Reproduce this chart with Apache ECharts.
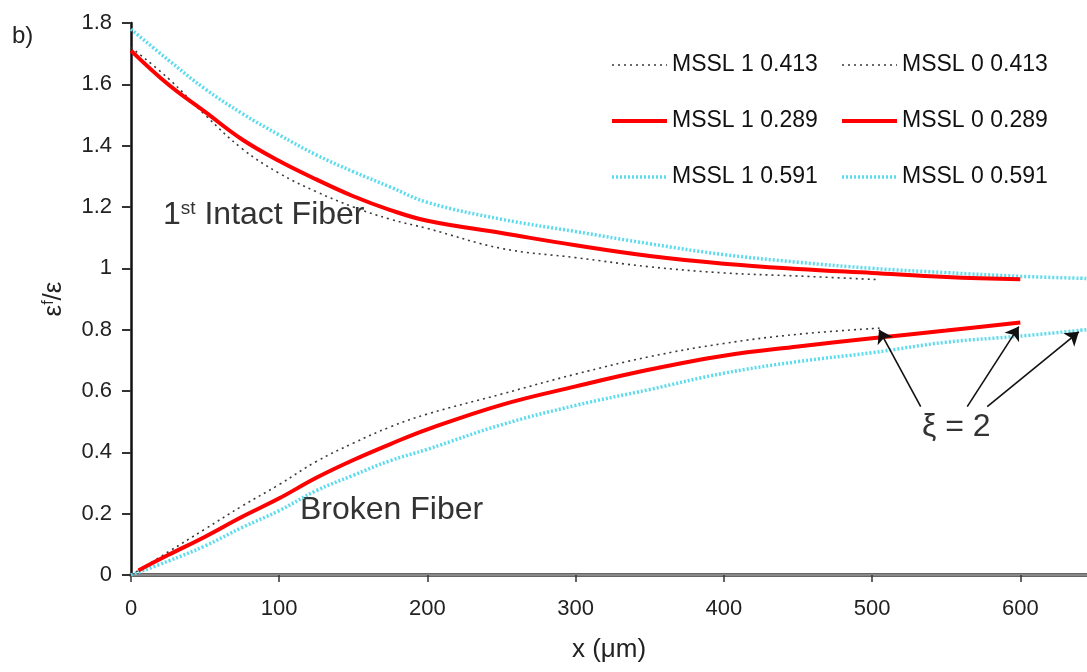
<!DOCTYPE html>
<html><head><meta charset="utf-8">
<script src="https://cdn.jsdelivr.net/npm/echarts@6/dist/echarts.min.js"></script>
<style>html,body{margin:0;padding:0;background:#fff}#c{width:1087px;height:672px}</style>
</head><body><div id="c"></div>
<script>
// ---- data (x in µm, y = eps_f / eps) ----
const xTickValues = [0, 100, 200, 300, 400, 500, 600];
const yTickValues = [0, 0.2, 0.4, 0.6, 0.8, 1, 1.2, 1.4, 1.6, 1.8];

// Intact fiber (upper curves)
const xUpBlack = [0,25,50,75,100,125,150,175,200,250,300,350,400,450,505];
const yUpBlack = [1.72,1.62,1.50,1.39,1.31,1.25,1.20,1.16,1.13,1.065,1.035,1.005,0.985,0.975,0.963];
const xUpRed   = [0,25,50,75,100,125,150,175,200,250,300,350,400,450,500,550,600];
const yUpRed   = [1.71,1.60,1.51,1.42,1.35,1.29,1.235,1.19,1.155,1.115,1.075,1.04,1.015,0.998,0.985,0.972,0.964];
const xUpCyan  = [0,25,50,75,100,125,150,175,200,250,300,350,400,450,500,550,600,645];
const yUpCyan  = [1.78,1.68,1.585,1.505,1.435,1.37,1.315,1.265,1.215,1.16,1.12,1.08,1.045,1.02,1.0,0.986,0.974,0.967];

// Broken fiber (lower curves)
const xLoBlack = [0,25,50,75,100,125,150,175,200,250,300,350,400,450,505];
const yLoBlack = [0,0.075,0.15,0.225,0.295,0.37,0.43,0.483,0.525,0.59,0.655,0.712,0.755,0.785,0.805];
const xLoRed   = [5,25,50,75,100,125,150,175,200,250,300,350,400,450,500,550,600];
const yLoRed   = [0.015,0.065,0.125,0.19,0.25,0.317,0.375,0.427,0.475,0.555,0.615,0.67,0.715,0.745,0.772,0.797,0.823];
const xLoCyan  = [0,25,50,75,100,125,150,175,200,250,300,350,400,450,500,550,600,645];
const yLoCyan  = [0,0.045,0.095,0.155,0.21,0.275,0.325,0.373,0.41,0.49,0.553,0.605,0.658,0.696,0.725,0.759,0.779,0.80];

const legendCol1 = ['MSSL 1 0.413', 'MSSL 1 0.289', 'MSSL 1 0.591'];
const legendCol2 = ['MSSL 0 0.413', 'MSSL 0 0.289', 'MSSL 0 0.591'];

// arrow annotation: tail (label) -> head (curve end)
const arrowTails = [[532.8, 0.549], [564.2, 0.549], [577.7, 0.549]];
const arrowHeads = [[504.7, 0.80], [599, 0.81], [639.5, 0.793]];

const zip = (xs, ys) => xs.map((x, i) => [x, ys[i]]);
const FF = '"Liberation Sans", Arial, sans-serif';

const blackStyle = { color: '#3a3a3a', width: 1.6, type: [2, 4] };
const redStyle   = { color: '#ff0000', width: 4, type: 'solid' };
const cyanStyle  = { color: '#5adcee', width: 3.5, type: [2, 2] };
const legendStyles = [blackStyle, redStyle, cyanStyle];

function mk(name, data, ls, z) {
  return { name, type: 'line', data, symbol: 'none', smooth: 0.4, z,
    lineStyle: ls, itemStyle: { color: ls.color }, emphasis: { disabled: true } };
}

const series = [
  mk('MSSL 1 0.413', zip(xUpBlack, yUpBlack), blackStyle, 2),
  mk('MSSL 0 0.413', zip(xLoBlack, yLoBlack), blackStyle, 2),
  mk('MSSL 1 0.591', zip(xUpCyan, yUpCyan), cyanStyle, 3),
  mk('MSSL 0 0.591', zip(xLoCyan, yLoCyan), cyanStyle, 3),
  mk('MSSL 1 0.289', zip(xUpRed, yUpRed), redStyle, 4),
  mk('MSSL 0 0.289', zip(xLoRed, yLoRed), redStyle, 4)
];
series[5].markLine = {
  silent: true, symbol: ['none', 'arrow'], symbolSize: 13, animation: false,
  label: { show: false },
  lineStyle: { color: '#111', width: 1.6, type: 'solid' },
  data: arrowTails.map((t, i) => [{ coord: t }, { coord: arrowHeads[i] }])
};

const legendCommon = {
  orient: 'vertical', top: 53, padding: 0, itemWidth: 55, itemHeight: 14, itemGap: 32,
  selectedMode: false,
  itemStyle: { opacity: 0, borderWidth: 0 },
  textStyle: { fontSize: 23, color: '#111', fontFamily: FF, lineHeight: 24 }
};
const legendItems = names => names.map((n, i) => ({
  name: n,
  lineStyle: { width: legendStyles[i].width, type: legendStyles[i].type, color: legendStyles[i].color }
}));

const chart = echarts.init(document.getElementById('c'), null, { renderer: 'canvas' });
chart.setOption({
  animation: false,
  backgroundColor: '#fff',
  grid: { left: 131, right: 0, top: 23, bottom: 97, containLabel: false },
  legend: [
    Object.assign({ data: legendItems(legendCol1), left: 610 }, legendCommon),
    Object.assign({ data: legendItems(legendCol2), left: 840 }, legendCommon)
  ],
  xAxis: [{
    type: 'value', min: 0, max: 645, interval: 100,
    name: 'x (\u03bcm)', nameLocation: 'middle', nameGap: 62,
    nameTextStyle: { fontSize: 26, color: '#222', fontFamily: FF },
    axisLine: { show: true, onZero: false, lineStyle: { color: '#666', width: 4 } },
    axisTick: { show: true, length: 7, lineStyle: { color: '#333', width: 1.5 } },
    axisLabel: { fontSize: 22, color: '#222', fontFamily: FF, margin: 23, showMaxLabel: false,
      formatter: v => (xTickValues.indexOf(v) >= 0 ? String(v) : '') },
    splitLine: { show: false }
  }, {
    type: 'value', position: 'top', min: 0, max: 645,
    axisLine: { show: true, lineStyle: { color: '#888', width: 2 } },
    axisTick: { show: false }, axisLabel: { show: false }, splitLine: { show: false }
  }],
  yAxis: {
    type: 'value', min: 0, max: 1.8, interval: 0.2,
    name: '{e|\u03b5}{s|f}{e|/\u03b5}', nameLocation: 'middle', nameRotate: 90, nameGap: 64,
    nameTextStyle: { color: '#222', fontFamily: FF,
      rich: { e: { fontSize: 26, fontFamily: FF, color: '#222' },
              s: { fontSize: 16, fontFamily: FF, color: '#222', verticalAlign: 'top' } } },
    axisLine: { show: true, onZero: false, lineStyle: { color: '#111', width: 2.5 } },
    axisTick: { show: true, length: 9, lineStyle: { color: '#333', width: 2 } },
    axisLabel: { fontSize: 22, color: '#222', fontFamily: FF, margin: 19,
      formatter: v => { const t = yTickValues.find(u => Math.abs(u - v) < 1e-6); return t === undefined ? '' : String(t); } },
    splitLine: { show: false }
  },
  graphic: [
    { type: 'text', left: 12, top: 24, style: { text: 'b)', fontSize: 24, fontFamily: FF, fill: '#222' } },
    { type: 'text', left: 163, top: 199, style: {
        text: '{a|1}{s|st}{a| Intact Fiber}', fill: '#333',
        rich: { a: { fontSize: 32, fontFamily: FF, fill: '#333' },
                s: { fontSize: 19, fontFamily: FF, fill: '#333', verticalAlign: 'top' } } } },
    { type: 'text', left: 300, top: 494, style: { text: 'Broken Fiber', fontSize: 32, fontFamily: FF, fill: '#333' } },
    { type: 'text', left: 922, top: 411, style: { text: '\u03be = 2', fontSize: 32, fontFamily: FF, fill: '#333' } }
  ],
  series
});
</script></body></html>
